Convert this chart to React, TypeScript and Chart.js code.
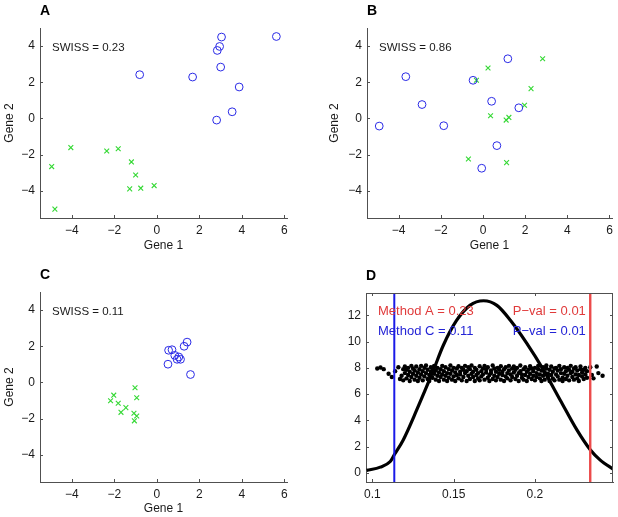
import React, { useEffect, useRef } from 'react';
import { Chart, registerables } from 'chart.js';
Chart.register(...registerables);

const FONT = "'Liberation Sans', Arial, Helvetica, sans-serif";
Chart.defaults.font.family = FONT;

// ---------- Panel A ----------
const aCircleX = [3.04, 5.62, 2.95, 2.84, 3.0, -0.81, 1.68, 3.87, 3.54, 2.81];
const aCircleY = [4.5, 4.53, 3.98, 3.76, 2.84, 2.42, 2.29, 1.74, 0.37, -0.09];
const aCrossX = [-4.05, -4.95, -2.36, -1.82, -1.2, -1.0, -1.28, -0.76, -0.13, -4.8];
const aCrossY = [-1.61, -2.66, -1.8, -1.67, -2.4, -3.12, -3.89, -3.85, -3.71, -5.01];

// ---------- Panel B ----------
const bCircleX = [-4.92, -3.66, -2.89, -1.86, -0.47, 1.18, 0.41, 1.7, 0.66, -0.06];
const bCircleY = [-0.42, 2.31, 0.77, -0.4, 2.11, 3.3, 0.95, 0.59, -1.5, -2.75];
const bCrossX = [0.24, 2.83, -0.31, 2.28, 1.97, 0.36, 1.1, 1.23, -0.69, 1.12];
const bCrossY = [2.79, 3.3, 2.11, 1.65, 0.73, 0.15, -0.09, 0.06, -2.24, -2.44];

// ---------- Panel C ----------
const cCircleX = [0.55, 0.71, 0.84, 0.95, 1.03, 1.11, 1.28, 1.42, 0.52, 1.58];
const cCircleY = [1.78, 1.81, 1.5, 1.28, 1.41, 1.28, 2.0, 2.23, 1.01, 0.44];
const cCrossX = [-1.03, -2.03, -2.18, -1.82, -1.46, -1.69, -0.95, -1.08, -0.95, -1.06];
const cCrossY = [-0.29, -0.7, -1.01, -1.15, -1.39, -1.65, -0.84, -1.7, -1.85, -2.12];

const geneXTicks = [-4, -2, 0, 2, 4, 6];
const geneYTicks = [-4, -2, 0, 2, 4];
const swissLabels = ['SWISS = 0.23', 'SWISS = 0.86', 'SWISS = 0.11'];
const panelLetters = ['A', 'B', 'C', 'D'];

// ---------- Panel D ----------
const dCurveX = [0.0965, 0.1049, 0.111, 0.1135, 0.119, 0.1273, 0.1375, 0.1436, 0.1518, 0.16, 0.1684, 0.1766, 0.185, 0.195, 0.2053, 0.2155, 0.2258, 0.234, 0.24, 0.2487];
const dCurveY = [0.2, 0.45, 0.88, 1.39, 2.52, 4.8, 7.8, 9.7, 11.6, 12.75, 13.1, 12.75, 11.6, 9.86, 7.83, 5.56, 3.28, 1.77, 1.0, 0.25];

const nullX = [
  0.103, 0.105, 0.107, 0.110, 0.112, 0.114, 0.116, 0.117,
  0.118, 0.119, 0.119, 0.120, 0.120, 0.121, 0.121, 0.122, 0.122, 0.123, 0.123, 0.124, 0.124, 0.125, 0.125,
  0.126, 0.126, 0.127, 0.127, 0.128, 0.128, 0.129, 0.129, 0.130, 0.130, 0.131, 0.131, 0.132, 0.132, 0.133,
  0.133, 0.134, 0.134, 0.135, 0.135, 0.136, 0.136, 0.137, 0.137, 0.138, 0.138, 0.139, 0.139, 0.140, 0.140,
  0.141, 0.141, 0.142, 0.142, 0.143, 0.143, 0.144, 0.144, 0.145, 0.145, 0.146, 0.146, 0.147, 0.147, 0.148,
  0.148, 0.149, 0.149, 0.150, 0.150, 0.151, 0.151, 0.152, 0.152, 0.153, 0.153, 0.154, 0.154, 0.155, 0.155,
  0.156, 0.156, 0.157, 0.157, 0.158, 0.158, 0.159, 0.159, 0.160, 0.160, 0.161, 0.161, 0.162, 0.162, 0.163,
  0.163, 0.164, 0.164, 0.165, 0.165, 0.166, 0.166, 0.167, 0.167, 0.168, 0.168, 0.169, 0.169, 0.170, 0.170,
  0.171, 0.171, 0.172, 0.172, 0.173, 0.173, 0.174, 0.174, 0.175, 0.175, 0.176, 0.176, 0.177, 0.177, 0.178,
  0.178, 0.179, 0.179, 0.180, 0.180, 0.181, 0.181, 0.182, 0.182, 0.183, 0.183, 0.184, 0.184, 0.185, 0.185,
  0.186, 0.186, 0.187, 0.187, 0.188, 0.188, 0.189, 0.189, 0.190, 0.190, 0.191, 0.191, 0.192, 0.192, 0.193,
  0.193, 0.194, 0.194, 0.195, 0.195, 0.196, 0.196, 0.197, 0.197, 0.198, 0.198, 0.199, 0.199, 0.200, 0.200,
  0.201, 0.201, 0.202, 0.202, 0.203, 0.203, 0.204, 0.204, 0.205, 0.205, 0.206, 0.206, 0.207, 0.207, 0.208,
  0.208, 0.209, 0.209, 0.210, 0.210, 0.211, 0.211, 0.212, 0.212, 0.213, 0.213, 0.214, 0.214, 0.215, 0.215,
  0.216, 0.216, 0.217, 0.217, 0.218, 0.218, 0.219, 0.219, 0.220, 0.220, 0.221, 0.221, 0.222, 0.222, 0.223,
  0.223, 0.224, 0.224, 0.225, 0.225, 0.226, 0.226, 0.227, 0.227, 0.228, 0.228, 0.229, 0.229, 0.230, 0.230,
  0.231, 0.231, 0.232, 0.232,
  0.234, 0.235, 0.236, 0.238, 0.239, 0.2416,
];
const nullY = [
  7.95, 8.02, 7.9, 7.55, 7.3, 7.75, 8.05, 7.15,
  7.4, 7.9, 7.05, 8.1, 7.6, 7.2, 7.85, 7.45, 8.0, 7.0, 7.7, 8.15, 7.3, 7.55, 7.95,
  7.1, 7.8, 8.1, 7.4, 7.65, 7.0, 7.9, 7.25, 8.15, 7.5, 7.75, 7.05, 8.0, 7.35, 7.6,
  8.18, 7.15, 7.85, 7.45, 7.0, 8.05, 7.7, 7.25, 7.95, 7.55, 8.15, 7.1, 7.8, 7.4, 8.0,
  7.65, 7.0, 7.9, 7.3, 8.15, 7.5, 7.75, 7.1, 8.05, 7.4, 7.6, 7.0, 7.9, 7.25, 8.18,
  7.55, 7.8, 7.1, 8.0, 7.35, 7.65, 7.0, 7.95, 7.45, 8.12, 7.2, 7.7, 7.5, 8.0, 7.05,
  7.85, 7.3, 8.15, 7.6, 7.0, 7.75, 7.4, 8.05, 7.15, 7.9, 7.55, 8.18, 7.3, 7.7, 7.0,
  8.0, 7.45, 7.85, 7.2, 7.6, 8.12, 7.05, 7.75, 7.35, 7.95, 7.5, 8.15, 7.1, 7.65, 7.9,
  7.25, 8.05, 7.45, 7.0, 7.8, 7.6, 8.18, 7.15, 7.4, 7.95, 7.7, 7.05, 8.0, 7.3, 7.55,
  7.85, 7.1, 8.12, 7.45, 7.7, 7.0, 7.9, 7.35, 8.05, 7.6, 7.2, 7.8, 8.15, 7.5, 7.05,
  7.95, 7.3, 7.65, 8.1, 7.15, 7.85, 7.4, 8.0, 7.6, 7.0, 7.75, 8.18, 7.25, 7.5, 7.9,
  7.1, 8.05, 7.45, 7.7, 7.0, 7.85, 7.3, 8.12, 7.55, 7.15, 7.95, 7.4, 7.75, 8.0, 7.05,
  7.6, 7.3, 7.9, 8.15, 7.2, 7.5, 7.8, 7.0, 8.05, 7.4, 7.65, 7.1, 7.95, 8.18, 7.3,
  7.55, 7.85, 7.0, 8.1, 7.45, 7.7, 7.2, 7.95, 7.05, 8.0, 7.5, 7.35, 7.8, 8.15, 7.1,
  7.6, 7.9, 7.25, 7.0, 8.05, 7.55, 7.75, 7.15, 7.4, 8.0, 7.85, 7.05, 7.6, 8.15, 7.3,
  7.7, 7.95, 7.1, 7.5, 8.05, 7.2, 7.8, 7.45, 7.0, 7.9, 8.1, 7.35, 7.65, 7.15, 7.85,
  8.0, 7.5, 7.25, 7.75,
  8.05, 7.45, 7.2, 8.1, 7.6, 7.4,
];

const methodCValue = 0.1135; // blue line
const methodAValue = 0.234; // red line
const dXTicks = [0.1, 0.15, 0.2];
const dYTicks = [0, 2, 4, 6, 8, 10, 12];
const dLabels = ['Method A = 0.23', 'P\u2212val = 0.01', 'Method C = 0.11', 'P\u2212val = 0.01'];

const AXIS_COLOR = '#505050';
const TEXT_COLOR = '#1a1a1a';
const BLUE = '#2a2ae6';
const GREEN = '#33d833';
const RED_TEXT = '#e03a3a';
const BLUE_TEXT = '#2424d6';

const pts = (xs: number[], ys: number[]) => xs.map((x, i) => ({ x, y: ys[i] }));
const fmt = (v: number) => String(v).replace('-', '\u2212');

type Spec = {
  w: number; h: number;
  area: { l: number; t: number; r: number; b: number };
  xH: number;
  yTitlePad: number;
  xTitlePad: number;
};

function scaleBase(ticks: number[], min: number, max: number) {
  return {
    type: 'linear' as const,
    min,
    max,
    afterBuildTicks: (s: any) => { s.ticks = ticks.map((v) => ({ value: v })); },
    grid: { display: false, drawTicks: false },
    border: { display: true, color: AXIS_COLOR, width: 1 },
    ticks: {
      callback: (v: any) => fmt(v),
      color: TEXT_COLOR,
      font: { size: 12, family: FONT },
      padding: 5,
      maxRotation: 0,
      autoSkip: false,
    },
  };
}

function makeGeneChart(canvas: HTMLCanvasElement, spec: Spec, idx: number, circles: any[], crosses: any[]) {
  const { w, h, area, xH } = spec;
  const decor = {
    id: 'decor' + idx,
    afterDraw(chart: any) {
      const { ctx, chartArea: a, scales } = chart;
      const x = scales.x, y = scales.y;
      ctx.save();
      ctx.strokeStyle = AXIS_COLOR;
      ctx.lineWidth = 1;
      ctx.beginPath();
      for (const v of geneXTicks) {
        const px = Math.round(x.getPixelForValue(v)) + 0.5;
        ctx.moveTo(px, a.bottom);
        ctx.lineTo(px, a.bottom - 3);
      }
      for (const v of geneYTicks) {
        const py = Math.round(y.getPixelForValue(v)) + 0.5;
        ctx.moveTo(a.left, py);
        ctx.lineTo(a.left + 3, py);
      }
      ctx.stroke();
      ctx.fillStyle = TEXT_COLOR;
      ctx.font = `11.5px ${FONT}`;
      ctx.textBaseline = 'middle';
      ctx.textAlign = 'left';
      ctx.fillText(swissLabels[idx], a.left + 12, a.top + 19.5);
      ctx.fillStyle = '#000';
      ctx.font = `bold 14px ${FONT}`;
      ctx.textBaseline = 'alphabetic';
      ctx.fillText(panelLetters[idx], a.left, a.top - 13);
      ctx.restore();
    },
  };
  const xs: any = scaleBase(geneXTicks, -5.5, 6.12);
  xs.afterFit = (s: any) => { s.height = xH; };
  xs.title = { display: true, text: 'Gene 1', color: TEXT_COLOR, font: { size: 12, family: FONT }, padding: { top: 0, bottom: spec.xTitlePad } };
  const ys: any = scaleBase(geneYTicks, -5.5, 5);
  ys.afterFit = (s: any) => { s.width = area.l; };
  ys.title = { display: true, text: 'Gene 2', color: TEXT_COLOR, font: { size: 12, family: FONT }, padding: { top: spec.yTitlePad, bottom: 0 } };

  return new Chart(canvas, {
    type: 'scatter',
    data: {
      datasets: [
        {
          data: circles,
          pointStyle: 'circle',
          pointRadius: 3.9,
          pointBorderWidth: 1,
          borderColor: BLUE,
          backgroundColor: 'rgba(0,0,0,0)',
        },
        {
          data: crosses,
          pointStyle: 'crossRot',
          pointRadius: 3.4,
          pointBorderWidth: 1.1,
          borderColor: GREEN,
          backgroundColor: GREEN,
        },
      ],
    },
    options: {
      responsive: false,
      animation: false,
      layout: { padding: { left: 0, top: area.t, right: w - area.r, bottom: h - area.b - xH } },
      plugins: { legend: { display: false }, tooltip: { enabled: false } },
      scales: { x: xs, y: ys },
    },
    plugins: [decor],
  });
}

function makeDChart(canvas: HTMLCanvasElement, spec: Spec) {
  const { w, h, area, xH } = spec;
  const yMin = -0.68, yMax = 13.69;
  const decor = {
    id: 'decorD',
    afterDraw(chart: any) {
      const { ctx, chartArea: a, scales } = chart;
      const x = scales.x, y = scales.y;
      ctx.save();
      ctx.strokeStyle = AXIS_COLOR;
      ctx.lineWidth = 1;
      ctx.beginPath();
      ctx.moveTo(a.left, Math.round(a.top) + 0.5);
      ctx.lineTo(a.right, Math.round(a.top) + 0.5);
      ctx.moveTo(Math.round(a.right) - 0.5, a.top);
      ctx.lineTo(Math.round(a.right) - 0.5, a.bottom);
      for (const v of dXTicks) {
        const px = Math.round(x.getPixelForValue(v)) + 0.5;
        ctx.moveTo(px, a.bottom);
        ctx.lineTo(px, a.bottom - 3);
        ctx.moveTo(px, a.top);
        ctx.lineTo(px, a.top + 3);
      }
      for (const v of dYTicks) {
        const py = Math.round(y.getPixelForValue(v)) + 0.5;
        ctx.moveTo(a.left, py);
        ctx.lineTo(a.left + 3, py);
        ctx.moveTo(a.right, py);
        ctx.lineTo(a.right - 3, py);
      }
      ctx.stroke();
      ctx.font = `13px ${FONT}`;
      ctx.textBaseline = 'middle';
      ctx.fillStyle = RED_TEXT;
      ctx.textAlign = 'left';
      ctx.fillText(dLabels[0], x.getPixelForValue(0.1035), y.getPixelForValue(12.3));
      ctx.textAlign = 'right';
      ctx.fillText(dLabels[1], x.getPixelForValue(0.2313), y.getPixelForValue(12.3));
      ctx.fillStyle = BLUE_TEXT;
      ctx.textAlign = 'left';
      ctx.fillText(dLabels[2], x.getPixelForValue(0.1035), y.getPixelForValue(10.8));
      ctx.textAlign = 'right';
      ctx.fillText(dLabels[3], x.getPixelForValue(0.2313), y.getPixelForValue(10.8));
      ctx.fillStyle = '#000';
      ctx.font = `bold 14px ${FONT}`;
      ctx.textAlign = 'left';
      ctx.textBaseline = 'alphabetic';
      ctx.fillText(panelLetters[3], a.left, a.top - 13.5);
      ctx.restore();
    },
  };
  const xs: any = scaleBase(dXTicks, 0.0961, 0.248);
  xs.afterFit = (s: any) => { s.height = xH; };
  const ys: any = scaleBase(dYTicks, yMin, yMax);
  ys.afterFit = (s: any) => { s.width = area.l; };

  return new Chart(canvas, {
    type: 'scatter',
    data: {
      datasets: [
        {
          data: [{ x: methodCValue, y: yMin }, { x: methodCValue, y: yMax }],
          showLine: true,
          borderColor: '#1a1ae8',
          borderWidth: 2,
          pointRadius: 0,
        },
        {
          data: [{ x: methodAValue, y: yMin }, { x: methodAValue, y: yMax }],
          showLine: true,
          borderColor: '#ec4a4a',
          borderWidth: 2.4,
          pointRadius: 0,
        },
        {
          data: pts(dCurveX, dCurveY),
          showLine: true,
          cubicInterpolationMode: 'monotone',
          borderColor: '#000',
          borderWidth: 3.2,
          pointRadius: 0,
        },
        {
          data: pts(nullX, nullY),
          pointStyle: 'circle',
          pointRadius: 2.2,
          pointBorderWidth: 0,
          backgroundColor: '#000',
          borderColor: '#000',
        },
      ],
    },
    options: {
      responsive: false,
      animation: false,
      layout: { padding: { left: 0, top: area.t, right: w - area.r, bottom: h - area.b - xH } },
      plugins: { legend: { display: false }, tooltip: { enabled: false } },
      scales: { x: xs, y: ys },
    },
    plugins: [decor],
  });
}

const specA: Spec = { w: 309, h: 259, area: { l: 40, t: 28, r: 287, b: 218 }, xH: 38, yTitlePad: 2, xTitlePad: 3 };
const specB: Spec = { w: 309, h: 259, area: { l: 58, t: 28, r: 303, b: 218 }, xH: 38, yTitlePad: 18.8, xTitlePad: 3 };
const specC: Spec = { w: 309, h: 258, area: { l: 40, t: 33, r: 287, b: 223 }, xH: 34, yTitlePad: 2, xTitlePad: 0.5 };
const specD: Spec = { w: 309, h: 258, area: { l: 57, t: 34, r: 304, b: 223 }, xH: 34, yTitlePad: 0, xTitlePad: 0 };

export default function App() {
  const refA = useRef<HTMLCanvasElement>(null);
  const refB = useRef<HTMLCanvasElement>(null);
  const refC = useRef<HTMLCanvasElement>(null);
  const refD = useRef<HTMLCanvasElement>(null);

  useEffect(() => {
    const charts = [
      makeGeneChart(refA.current!, specA, 0, pts(aCircleX, aCircleY), pts(aCrossX, aCrossY)),
      makeGeneChart(refB.current!, specB, 1, pts(bCircleX, bCircleY), pts(bCrossX, bCrossY)),
      makeGeneChart(refC.current!, specC, 2, pts(cCircleX, cCircleY), pts(cCrossX, cCrossY)),
      makeDChart(refD.current!, specD),
    ];
    return () => charts.forEach((c) => c.destroy());
  }, []);

  const cs = (left: number, top: number, w: number, h: number): React.CSSProperties => ({
    position: 'absolute', left, top, width: w, height: h,
  });

  return (
    <div style={{ position: 'absolute', left: 0, top: 0, width: 618, height: 517, background: '#fff' }}>
      <canvas ref={refA} width={309} height={259} style={cs(0, 0, 309, 259)} />
      <canvas ref={refB} width={309} height={259} style={cs(309, 0, 309, 259)} />
      <canvas ref={refC} width={309} height={258} style={cs(0, 259, 309, 258)} />
      <canvas ref={refD} width={309} height={258} style={cs(309, 259, 309, 258)} />
    </div>
  );
}
